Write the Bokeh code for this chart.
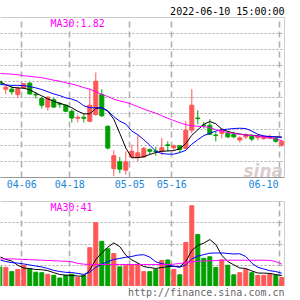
from bokeh.plotting import figure
from bokeh.layouts import column
from bokeh.models import Range1d, Span, Label, FixedTicker, Grid, ColumnDataSource, Title
from bokeh.embed import file_html
from bokeh.resources import INLINE

# ---------------- data ----------------
dates = ["03-29", "03-30", "03-31", "04-01", "04-06", "04-07", "04-08", "04-11",
         "04-12", "04-13", "04-14", "04-15", "04-18", "04-19", "04-20", "04-21",
         "04-22", "04-25", "04-26", "04-27", "04-28", "04-29", "05-05", "05-06",
         "05-09", "05-10", "05-11", "05-12", "05-13", "05-16", "05-17", "05-18",
         "05-19", "05-20", "05-23", "05-24", "05-25", "05-26", "05-27", "05-30",
         "05-31", "06-01", "06-02", "06-06", "06-07", "06-08", "06-09", "06-10"]

opens = [2.001, 1.976, 1.976, 1.959, 1.980, 1.995, 1.960, 1.947, 1.920, 1.943,
         1.931, 1.926, 1.907, 1.885, 1.888, 1.876, 1.897, 1.959, 1.860, 1.728,
         1.749, 1.723, 1.764, 1.763, 1.764, 1.787, 1.783, 1.782, 1.802, 1.793,
         1.799, 1.791, 1.848, 1.886, 1.864, 1.863, 1.833, 1.838, 1.838, 1.835,
         1.817, 1.827, 1.829, 1.824, 1.822, 1.823, 1.822, 1.801]
closes = [1.991, 1.982, 1.968, 1.978, 1.993, 1.961, 1.958, 1.926, 1.951, 1.920,
          1.929, 1.907, 1.886, 1.888, 1.885, 1.926, 2.001, 1.893, 1.792, 1.768,
          1.726, 1.749, 1.782, 1.777, 1.791, 1.782, 1.781, 1.793, 1.800, 1.799,
          1.788, 1.848, 1.926, 1.884, 1.863, 1.835, 1.831, 1.851, 1.827, 1.827,
          1.824, 1.832, 1.820, 1.827, 1.827, 1.828, 1.813, 1.813]
highs = [2.004, 1.988, 1.986, 1.984, 1.996, 1.997, 1.968, 1.951, 1.953, 1.949,
         1.936, 1.928, 1.913, 1.895, 1.899, 1.978, 2.028, 1.976, 1.863, 1.785,
         1.764, 1.782, 1.803, 1.834, 1.796, 1.791, 1.796, 1.824, 1.813, 1.803,
         1.801, 1.876, 1.976, 1.910, 1.874, 1.882, 1.843, 1.854, 1.845, 1.842,
         1.829, 1.838, 1.835, 1.832, 1.832, 1.835, 1.826, 1.818]
lows = [1.985, 1.960, 1.959, 1.949, 1.976, 1.959, 1.947, 1.916, 1.909, 1.918,
        1.918, 1.905, 1.872, 1.872, 1.872, 1.872, 1.893, 1.889, 1.788, 1.704,
        1.713, 1.709, 1.760, 1.751, 1.761, 1.772, 1.768, 1.770, 1.782, 1.785,
        1.778, 1.788, 1.838, 1.866, 1.853, 1.832, 1.813, 1.822, 1.823, 1.823,
        1.809, 1.820, 1.813, 1.816, 1.817, 1.820, 1.809, 1.796]

ma5 = [1.999, 1.990, 1.982, 1.980, 1.979, 1.974, 1.964, 1.955, 1.946, 1.938,
       1.932, 1.926, 1.918, 1.907, 1.899, 1.899, 1.916, 1.918, 1.907, 1.882,
       1.838, 1.792, 1.762, 1.762, 1.765, 1.772, 1.778, 1.782, 1.783, 1.784,
       1.790, 1.806, 1.832, 1.849, 1.866, 1.875, 1.868, 1.851, 1.844, 1.839,
       1.836, 1.833, 1.832, 1.830, 1.828, 1.827, 1.827, 1.826]
ma10 = [1.991, 1.989, 1.988, 1.988, 1.987, 1.984, 1.980, 1.975, 1.968, 1.961,
        1.956, 1.949, 1.945, 1.938, 1.924, 1.918, 1.918, 1.918, 1.909, 1.890,
        1.876, 1.867, 1.845, 1.834, 1.818, 1.801, 1.782, 1.775, 1.773, 1.773,
        1.778, 1.785, 1.804, 1.818, 1.831, 1.838, 1.845, 1.849, 1.851, 1.853,
        1.854, 1.853, 1.845, 1.835, 1.830, 1.828, 1.827, 1.826]
ma30 = [2.025, 2.024, 2.023, 2.021, 2.018, 2.016, 2.014, 2.012, 2.008, 2.004,
        2.001, 1.996, 1.992, 1.987, 1.981, 1.976, 1.968, 1.960, 1.953, 1.945,
        1.939, 1.935, 1.929, 1.921, 1.914, 1.907, 1.901, 1.893, 1.885, 1.878,
        1.871, 1.865, 1.862, 1.860, 1.859, 1.856, 1.849, 1.845, 1.840, 1.838,
        1.835, 1.833, 1.831, 1.829, 1.827, 1.824, 1.821, 1.815]

volumes = [37, 36, 28, 32, 40, 33, 27, 26, 23, 21, 16, 21, 23, 17, 21, 73,
           120, 85, 71, 62, 37, 40, 40, 42, 28, 28, 32, 49, 50, 32, 22, 83,
           152, 98, 53, 56, 36, 50, 40, 22, 26, 32, 26, 21, 21, 23, 21, 17]
vma5 = [56, 51, 48, 40, 34.6, 33.8, 32, 31.6, 29.8, 26, 22.6, 21.4, 20.8, 19.6,
        19.6, 31, 50.8, 63.2, 74, 82.2, 75, 59, 50, 44.2, 37.4, 35.6, 34, 35.8,
        37.4, 38.2, 37, 47.2, 67.8, 77.4, 81.6, 88.4, 79, 58.6, 47, 40.8, 34.8,
        34, 29.2, 25.4, 25.2, 24.6, 22.4, 20.6]
vma10 = [50, 47, 45, 44, 42.5, 40.5, 38.5, 36.8, 33.8, 30.3, 28.2, 26.7, 26.2,
         24.7, 22.8, 26.8, 36.1, 42, 46.8, 50.9, 53, 54.9, 56.6, 59.1, 59.8,
         55.3, 46.5, 42.9, 40.8, 37.8, 36.3, 40.6, 51.8, 57.4, 59.9, 62.7, 63.1,
         63.2, 62.2, 61.2, 61.6, 56.5, 43.9, 36.2, 33, 29.7, 28.2, 24.9]
vma30 = [52, 52, 52, 51.5, 51, 50.5, 50, 49.5, 49, 48.5, 48, 47.5, 46.5, 43.5,
         42, 41.5, 41.5, 41.5, 41.5, 41.5, 41.5, 41.5, 41.5, 41.5, 41.5, 41.5,
         41.5, 41.5, 41.5, 42, 43.5, 45, 46.5, 47.5, 48, 48.5, 49, 49.5, 49.5,
         49.5, 49.5, 49.5, 49.5, 49.5, 49.5, 49, 47, 42]

tick_dates = ["04-06", "04-18", "05-05", "05-16", "06-10"]
price_grid = [1.75, 1.80, 1.85, 1.90, 1.95, 2.00, 2.05, 2.10, 2.15]
vol_grid = [40, 80, 120]

title_text = "2022-06-10 15:00:00"
ma_price_text = "MA30:1.82"
ma_vol_text = "MA30:41"
url_text = "http://finance.sina.com.cn"

# ---------------- styling ----------------
RED = "#ff5656"
GREEN = "#00a000"
BORDER = "#999999"
GRID = "#a8a8a8"
MONO = "DejaVu Sans Mono"

xs = list(range(len(dates)))
colors = [RED if c >= o else GREEN for o, c in zip(opens, closes)]
src = ColumnDataSource(dict(
    x=xs, high=highs, low=lows,
    top=[max(o, c) for o, c in zip(opens, closes)],
    bottom=[min(o, c) for o, c in zip(opens, closes)],
    vol=volumes, color=colors))

grid_pos = [round(dates.index(d) - 1 / 3, 2) for d in tick_dates]
label_pos = grid_pos[:-1] + [round(grid_pos[-1] - 2.72, 2)]

X0, X1 = 0.117, 47.45


def base_fig(height, y_range, top, bottom, xaxis):
    f = figure(width=300, height=height, x_range=Range1d(X0, X1), y_range=y_range,
               output_backend="svg", toolbar_location=None, title=None,
               x_axis_location="below" if xaxis else None, y_axis_location=None,
               min_border_left=0, min_border_right=16,
               min_border_top=top, min_border_bottom=bottom)
    f.outline_line_color = None
    f.background_fill_color = "white"
    f.border_fill_color = "white"
    for g in f.grid:
        g.visible = False
    return f


def add_grids(f, hticks):
    f.add_layout(Grid(dimension=0, ticker=FixedTicker(ticks=grid_pos),
                      grid_line_color="#b0b0b0", grid_line_dash="6 4",
                      grid_line_width=1.6))
    f.add_layout(Grid(dimension=1, ticker=FixedTicker(ticks=hticks),
                      grid_line_color=GRID, grid_line_dash="2 2",
                      grid_line_width=1))


# ---------------- price panel ----------------
p = base_fig(201, Range1d(1.70, 2.20), 17, 24, True)
add_grids(p, price_grid)

p.segment(x0="x", y0="low", x1="x", y1="high", line_color="color", line_width=1, source=src)
p.vbar(x="x", width=0.667, top="top", bottom="bottom", fill_color="color",
       line_color="color", line_width=1, source=src)
p.line(xs, ma5, line_color="#000000", line_width=1)
p.line(xs, ma10, line_color="#0000ff", line_width=1)
p.line(xs, ma30, line_color="#ff00ff", line_width=1)

p.add_layout(Span(location=2.20, dimension="width", line_color=BORDER, line_width=1))
p.add_layout(Span(location=X1, dimension="height", line_color=BORDER, line_width=1))

ax = p.xaxis[0]
ax.ticker = FixedTicker(ticks=label_pos)
ax.major_label_overrides = {pos: d for pos, d in zip(label_pos, tick_dates)}
ax.axis_line_color = BORDER
ax.major_tick_line_color = None
ax.minor_tick_line_color = None
ax.major_tick_out = 0
ax.major_tick_in = 0
ax.minor_tick_out = 0
ax.minor_tick_in = 0
ax.major_label_text_font = MONO
ax.major_label_text_font_size = "10px"
ax.major_label_text_color = "#1a86d8"
ax.major_label_standoff = 2

p.add_layout(Title(text=title_text, align="right", text_font=MONO,
                   text_font_size="10px", text_font_style="normal",
                   text_color="#000000", standoff=2, offset=0), "above")
p.add_layout(Label(x=8.45, y=2.20, text=ma_price_text, text_align="left",
                   text_baseline="top", text_font=MONO, text_font_size="10px",
                   text_color="#ff00ff"))
p.add_layout(Label(x=47.2, y=1.721, text="sina", text_align="right",
                   text_baseline="alphabetic", text_font="DejaVu Sans",
                   text_font_style="bold italic", text_font_size="17px",
                   text_color="#d2c4c4", text_alpha=0.85))

# ---------------- volume panel ----------------
v = base_fig(85, Range1d(0, 160), 0, 0, False)
add_grids(v, vol_grid)

v.vbar(x="x", width=0.667, top="vol", bottom=0, fill_color="color",
       line_color="color", line_width=1, source=src)
v.line(xs, vma5, line_color="#000000", line_width=1)
v.line(xs, vma10, line_color="#0000ff", line_width=1)
v.line(xs, vma30, line_color="#ff00ff", line_width=1)

v.add_layout(Span(location=160, dimension="width", line_color=BORDER, line_width=1))
v.add_layout(Span(location=X1, dimension="height", line_color=BORDER, line_width=1))

v.add_layout(Label(x=8.45, y=160, text=ma_vol_text, text_align="left",
                   text_baseline="top", text_font=MONO, text_font_size="10px",
                   text_color="#ff00ff"))

# ---------------- footer strip with the source URL ----------------
u = base_fig(14, Range1d(0, 1), 0, 0, False)
u.add_layout(Label(x=X1, y=0.55, text=url_text, text_align="right",
                   text_baseline="middle", text_font=MONO,
                   text_font_size="10px", text_color="#666666"))

layout = column(p, v, u, spacing=0)
open("out.html", "w").write(file_html(layout, INLINE))
